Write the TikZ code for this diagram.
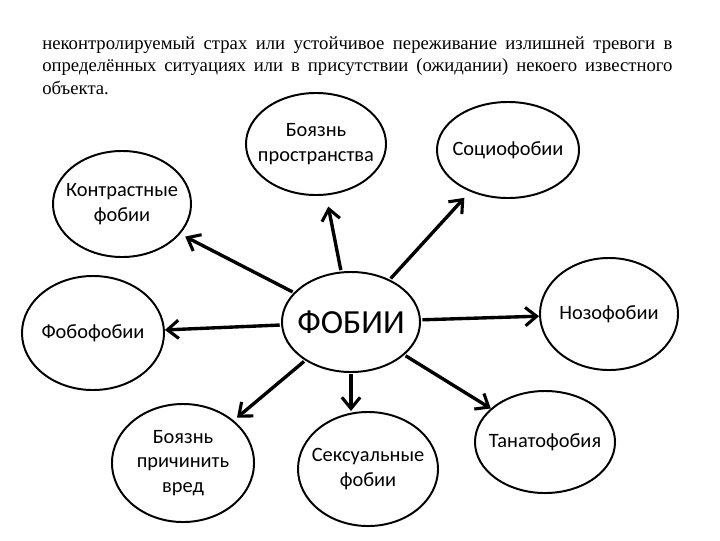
\documentclass[tikz,border=0pt]{standalone}
\usepackage{fontspec}
\setmainfont{Liberation Serif}
\newfontfamily\calib{Carlito}
\usetikzlibrary{shapes.geometric,arrows.meta}
\begin{document}
\begin{tikzpicture}[x=0.025cm, y=-0.025cm, >={Straight Barb[length=8pt,width=13pt,line width=2.2pt]},
	fob/.style={draw, line width=1.4pt, ellipse, inner sep=0pt},
	txt/.style={align=center, inner sep=0pt, font=\calib\fontsize{14.5}{17.5}\selectfont},
	link/.style={->, line width=2.4pt, shorten <=1pt}]
				\useasboundingbox (0,0) rectangle (720,540);
				\node[anchor=north west, text width=15.75cm, align=justify, inner sep=0pt,
					font=\fontsize{13.3}{16}\selectfont] (head) at (42,36)
					{неконтролируемый страх или устойчивое переживание излишней тревоги в определённых ситуациях или в присутствии (ожидании) некоего известного объекта.};
				\node[fob, minimum width=3.5cm, minimum height=2.55cm, label={[txt]center:Боязнь\\пространства}] (prostr) at (316,144) {};
				\node[fob, minimum width=3.55cm, minimum height=2.4cm, label={[txt]center:Социофобии}] (socio) at (508,150) {};
				\node[fob, minimum width=3.45cm, minimum height=2.65cm, label={[txt]center:Контрастные\\фобии}] (kontr) at (122,204) {};
				\node[fob, minimum width=3.55cm, minimum height=2.85cm, label={[txt]center:Фобофобии}] (fobo) at (93,333) {};
				\node[fob, minimum width=3.45cm, minimum height=2.5cm, label={[txt, font=\calib\fontsize{24}{28}\selectfont]center:ФОБИИ}] (fobii) at (351,322) {};
				\node[fob, minimum width=3.45cm, minimum height=2.8cm, label={[txt]center:Нозофобии}] (nozo) at (609,314) {};
				\node[fob, minimum width=3.5cm, minimum height=2.55cm, label={[txt]center:Танатофобия}] (tanato) at (545,442) {};
				\node[fob, minimum width=3.55cm, minimum height=2.95cm, label={[txt]center:Боязнь\\причинить\\вред}] (vred) at (183,463) {};
				\node[fob, minimum width=3.5cm, minimum height=2.85cm, label={[txt]center:Сексуальные\\фобии}] (seks) at (368,469) {};
				% arrows from the centre
				\draw[link, shorten >=4pt] (fobii) -- (kontr);
				\draw[link, shorten >=8pt] (fobii) -- (prostr);
				\draw[link, shorten >=6pt] (fobii) -- (socio);
				\draw[link] (fobii) -- (fobo);
				\draw[link] (fobii) -- (nozo);
				\draw[link, shorten >=3pt] (fobii) -- (vred);
				\draw[link] (fobii.south) -- (fobii.south |- seks.north);
				\draw[link] (fobii) -- (tanato);
			\end{tikzpicture}
\end{document}
